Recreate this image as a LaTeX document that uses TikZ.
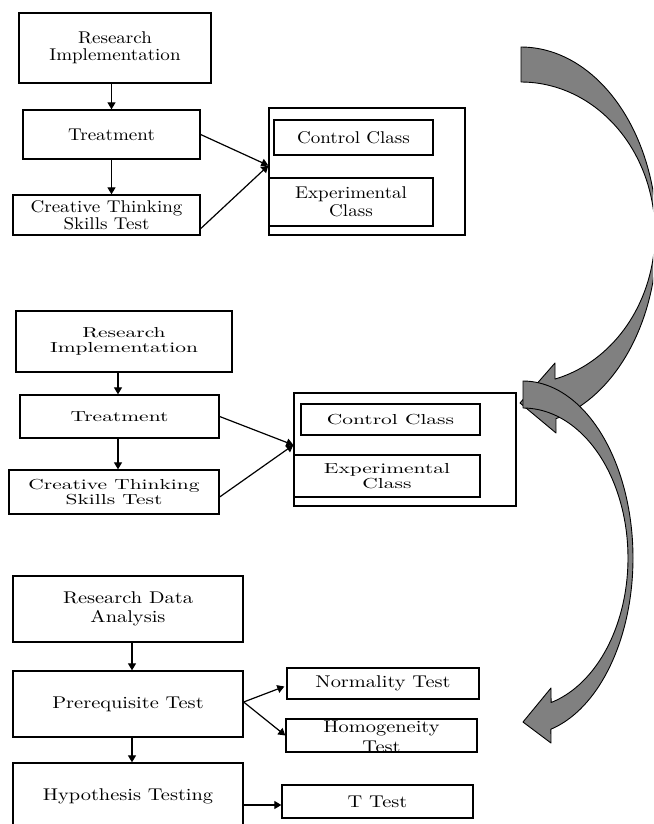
\documentclass[tikz,border=0pt]{standalone}
\usepackage{fontspec}
\newfontfamily\lmA{lmroman10-regular.otf}[FakeStretch=1.12]
\newfontfamily\lmB{lmroman10-regular.otf}[FakeStretch=1.48]
\newfontfamily\lmC{lmroman10-regular.otf}[FakeStretch=1.2]
\usetikzlibrary{arrows.meta,calc}
\definecolor{arrowgray}{HTML}{808080}
\tikzset{
  box/.style={draw, line width=1.3pt, inner sep=0pt, align=center},
  arr/.style={line width=1.2pt, -{Triangle[length=7pt,width=8pt]}},
  tA/.style={font=\lmA\fontsize{17}{17.5}\selectfont},
  tB/.style={font=\lmB\fontsize{14.5}{15}\selectfont},
  tC/.style={font=\lmC\fontsize{17}{19.5}\selectfont},
  bigarrow/.style={fill=arrowgray, draw=black, line width=0.9pt, line join=round}
}
\begin{document}
\begin{tikzpicture}[x=1pt,y=-1pt]
\clip (0,0) rectangle (653,824);
\fill[white] (0,0) rectangle (653,824);

% ---------- Section 1 ----------
\node[box, tA, minimum width=192pt, minimum height=70pt] (ri1) at (115,48) {Research\\Implementation};
\node[box, tA, minimum width=177pt, minimum height=49pt] (tr1) at (111.5,134.5) {Treatment};
\node[box, tA, minimum width=187pt, minimum height=40pt] (ct1) at (106.5,215) {Creative Thinking\\Skills Test};
\node[box, minimum width=196pt, minimum height=127pt] (out1) at (367,171.5) {};
\node[box, tA, minimum width=159pt, minimum height=35pt] (cc1) at (353.5,137.5) {Control Class};
\node[box, tA, minimum width=164pt, minimum height=48pt] (ec1) at (351,202) {Experimental\\Class};
\coordinate (m1) at ($(out1.west)+(0,-6)$);
\draw[arr] (tr1.north |- ri1.south) -- (tr1.north);
\draw[arr] (tr1.south) -- (tr1.south |- ct1.north);
\draw[arr] (tr1.east) -- (m1);
\draw[arr] ($(ct1.south east)+(0,-7)$) -- (m1);

% ---------- Section 2 ----------
\node[box, tB, minimum width=216pt, minimum height=61pt] (ri2) at (124,341.5) {Research\\Implementation};
\node[box, tB, minimum width=199pt, minimum height=43pt] (tr2) at (119.5,416.5) {Treatment};
\node[box, tB, minimum width=210pt, minimum height=44pt] (ct2) at (114,492) {Creative Thinking\\Skills Test};
\node[box, minimum width=222pt, minimum height=113pt] (out2) at (405,449.5) {};
\node[box, tB, minimum width=179pt, minimum height=31pt] (cc2) at (390.5,419.5) {Control Class};
\node[box, tB, minimum width=186pt, minimum height=42pt] (ec2) at (387,476) {Experimental\\Class};
\coordinate (m2) at ($(out2.west)+(0,-4.5)$);
\draw[arr] ($(ri2.south)+(-6,0)$) -- ($(tr2.north)+(-1.5,0)$);
\draw[arr] ($(tr2.south)+(-1.5,0)$) -- ($(tr2.south |- ct2.north)+(-1.5,0)$);
\draw[arr] (tr2.east) -- (m2);
\draw[arr] ($(ct2.east)+(0,5)$) -- (m2);

% ---------- Section 3 ----------
\node[box, tC, minimum width=230pt, minimum height=66pt] (rda) at (128,609) {Research Data\\Analysis};
\node[box, tC, minimum width=230pt, minimum height=66pt] (pre) at (128,704) {Prerequisite Test};
\node[box, tC, minimum width=230pt, minimum height=66pt] (hyp) at (128,796) {Hypothesis Testing};
\node[box, tC, minimum width=192pt, minimum height=31pt] (nor) at (383,683.5) {Normality Test};
\node[box, minimum width=191pt, minimum height=33pt] (hom) at (381.5,735.5) {};
\node[tC, align=center, inner sep=0pt] (homtxt) at (381.5,737) {Homogeneity\\Test};
\node[box, tC, minimum width=191pt, minimum height=33pt] (tt) at (377.5,801.5) {T Test};
\draw[arr] ($(rda.south)+(4,0)$) -- ($(pre.north)+(4,0)$);
\draw[arr] ($(pre.south)+(4,0)$) -- ($(hyp.north)+(4,0)$);
\draw[arr] ($(pre.east)+(0,-2)$) -- ($(nor.west)+(-2,3)$);
\draw[arr] ($(pre.east)+(0,-2)$) -- (hom.west);
\draw[arr] ($(hyp.east)+(0,9)$) -- ($(tt.west)+(0,3.5)$);

% ---------- Curved block arrows ----------
\draw[bigarrow] plot[domain=-90:75.1, samples=80] ({521+136*cos(\x)},{236+189*sin(\x)})
  -- (556,433) -- (520,403) -- (555,363)
  -- plot[domain=75.3:-90, samples=80] ({521+134*cos(\x)},{233+151*sin(\x)}) -- cycle;
\draw[bigarrow] plot[domain=-90:75.3, samples=80] ({523+110*cos(\x)},{558+177*sin(\x)})
  -- (551,743) -- (523,722) -- (551,688)
  -- plot[domain=74.5:-90, samples=80] ({523+105*cos(\x)},{558+150*sin(\x)}) -- cycle;
\end{tikzpicture}
\end{document}
